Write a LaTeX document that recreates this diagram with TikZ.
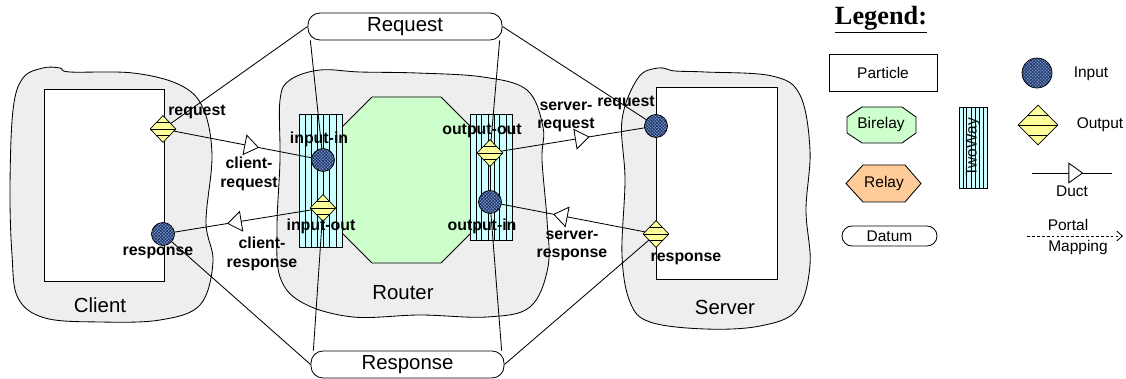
\documentclass[tikz,border=0pt]{standalone}
\usepackage{fontspec}
\setmainfont{Liberation Sans}
\newfontfamily\legendfont{Liberation Serif}
\usetikzlibrary{shapes.geometric}
\usetikzlibrary{patterns.meta}
\usetikzlibrary{calc}
\usetikzlibrary{arrows.meta}
\usetikzlibrary{decorations.markings}
\definecolor{blobgray}{HTML}{EEEEEE}
\definecolor{birelaygreen}{HTML}{CCFFCC}
\definecolor{relayorange}{HTML}{FFCC99}
\definecolor{twocyan}{HTML}{CCFFFF}
\definecolor{outyellow}{HTML}{FFFF99}
\definecolor{inblue}{HTML}{86A6DA}
\definecolor{indark}{HTML}{22386A}
\tikzset{
    blob/.style = {fill=blobgray, draw=black, line width=0.6pt},
    particle/.style = {rectangle, draw=black, fill=white, line width=0.6pt, inner sep=0pt},
    birelay/.style = {draw=black, fill=birelaygreen, line width=0.6pt},
    relay/.style = {draw=black, fill=relayorange, line width=0.6pt},
    twoway/.style = {rectangle, draw=black, fill=twocyan, line width=0.6pt, inner sep=0pt,
        path picture={\foreach \f in {0.14,0.28,0.43,0.57,0.71,0.86}
            \draw[line width=0.5pt] ($(path picture bounding box.south west)!\f!(path picture bounding box.south east)$)
                -- ($(path picture bounding box.north west)!\f!(path picture bounding box.north east)$);}},
    datum/.style = {rectangle, rounded corners=0.3cm, draw=black, fill=white, line width=0.6pt, inner sep=0pt,
        font=\fontsize{14.5}{17}\selectfont},
    inport/.style = {circle, draw=black, line width=0.5pt, inner sep=0pt, minimum size=0.575cm,
        preaction={fill=inblue}, pattern={Hatch[angle=45, distance=1.6pt, line width=0.6pt]}, pattern color=indark},
    outport/.style = {diamond, draw=black, line width=0.5pt, inner sep=0pt, minimum width=0.65cm, minimum height=0.675cm,
        fill=outyellow,
        path picture={\foreach \f in {0.25,0.5,0.75}
            \draw[line width=0.5pt] ($(path picture bounding box.south west)!\f!(path picture bounding box.north west)$)
                -- ($(path picture bounding box.south east)!\f!(path picture bounding box.north east)$);}},
    portlbl/.style = {font=\fontsize{11.3}{13}\selectfont\bfseries, align=center, inner sep=0pt},
    bigtxt/.style = {font=\fontsize{14.5}{17}\selectfont, inner sep=0pt},
    legtxt/.style = {font=\fontsize{11}{13}\selectfont, align=center, inner sep=0pt},
    mapline/.style = {line width=0.6pt},
    duct/.style = {line width=0.6pt, postaction={decorate},
        decoration={markings, mark=at position #1 with
            {\arrow{Triangle[length=10.5pt,width=15pt,fill=white,line width=0.6pt]}}}},
    portal/.style = {line width=0.6pt, dash pattern=on 2pt off 1.5pt, -{Straight Barb[length=4pt,width=7pt]}}
}
\begin{document}
\begin{tikzpicture}[x=0.025cm, y=-0.025cm]
\useasboundingbox (0,0) rectangle (1126,379);
%
% containers
\draw[blob] plot[smooth cycle, tension=0.6] coordinates {(23,78) (43,68) (60,68) (70,72) (133,73) (180,85)
    (203,108) (212,155) (206,222) (213,262) (200,305) (160,320) (100,322) (45,318) (18,298) (12,255) (10,188) (13,110)};
\draw[blob] plot[smooth cycle, tension=0.6] coordinates {(290,80) (320,70) (360,72) (417,73) (483,77) (527,90)
    (543,127) (542,160) (547,220) (548,267) (530,307) (487,317) (420,315) (353,317) (303,303) (280,277) (277,227) (280,160) (280,100)};
\draw[blob] plot[smooth cycle, tension=0.6] coordinates {(638,78) (658,68) (675,71) (705,72) (772,76) (800,95)
    (810,150) (806,210) (810,265) (797,310) (760,326) (705,329) (650,322) (630,302) (622,255) (625,180) (622,120)};
%
\node[particle, minimum width=3cm, minimum height=4.8cm] at (104,185) (client) {};
\node[particle, minimum width=3.025cm, minimum height=4.8cm] at (716.5,183) (server) {};
\draw[birelay] (372,97) -- (441,97) -- (490,146) -- (490,214) -- (441,263) -- (372,263) -- (323,214) -- (323,146) -- cycle;
\node[twoway, minimum width=1.075cm, minimum height=3.325cm] at (320.5,180.5) (twin) {};
\node[twoway, minimum width=1.05cm, minimum height=3.15cm] at (491,177) (twout) {};
%
\node[bigtxt] at (100,305) (clienttxt) {Client};
\node[bigtxt] at (403,293) (routertxt) {Router};
\node[bigtxt] at (725,307) (servertxt) {Server};
%
\node[datum, minimum width=4.85cm, minimum height=0.675cm] at (405,26.5) (req) {Request};
\node[datum, minimum width=4.825cm, minimum height=0.675cm] at (407.5,364.5) (resp) {Response};
%
% port positions
\coordinate (creq) at (163,129);
\coordinate (cresp) at (163,234);
\coordinate (inin) at (323,160);
\coordinate (inout) at (323,208);
\coordinate (outout) at (490,153);
\coordinate (outin) at (490,202);
\coordinate (sreq) at (656,126);
\coordinate (sresp) at (656,234);
%
\draw[line width=0.6pt] (inin) -- (inout);
\draw[line width=0.6pt] (outout) -- (outin);
%
\draw[mapline] (req.west) -- (creq);
\draw[mapline] ([xshift=2pt]req.south west) -- (inin);
\draw[mapline] ([xshift=-2pt]req.south east) -- (outout);
\draw[mapline] (req.east) -- (sreq);
\draw[mapline] (resp.west) -- (cresp);
\draw[mapline] ([xshift=2pt]resp.north west) -- (inout);
\draw[mapline] ([xshift=-2pt]resp.north east) -- (outin);
\draw[mapline] (resp.east) -- (sresp);
%
\draw[duct=0.6] (creq) -- (inin);
\draw[duct=0.6] (inout) -- (cresp);
\draw[duct=0.6] (outout) -- (sreq);
\draw[duct=0.62] (sresp) -- (outin);
%
\node[outport] at (creq) (creqp) {};
\node[inport] at (cresp) (cresppt) {};
\node[inport] at (inin) (ininp) {};
\node[outport] at (inout) (inoutp) {};
\node[outport] at (outout) (outoutp) {};
\node[inport] at (outin) (outinp) {};
\node[inport] at (sreq) (sreqp) {};
\node[outport] at (sresp) (sresppt) {};
%
\node[portlbl] at (197,112) {request};
\node[portlbl] at (158,253) {response};
\node[portlbl] at (249,174) {client-\\request};
\node[portlbl] at (262,254) {client-\\response};
\node[portlbl] at (319,139) {input-in};
\node[portlbl] at (321,226) {input-out};
\node[portlbl] at (482,131) {output-out};
\node[portlbl] at (482,226) {output-in};
\node[portlbl] at (626,103) {request};
\node[portlbl] at (686,259) {response};
\node[portlbl] at (566,117) {server-\\request};
\node[portlbl] at (572,246) {server-\\response};
%
% legend
\node[inner sep=0pt, font=\legendfont\fontsize{18.7}{21}\selectfont\bfseries] at (881,20) (legend) {\underline{Legend:}};
\node[particle, minimum width=2.7cm, minimum height=0.925cm, legtxt] at (883,72.5) (lparticle) {Particle};
\draw[birelay] (862,107) -- (902,107) -- (916,117) -- (916,133) -- (902,143) -- (862,143) -- (847,133) -- (847,117) -- cycle;
\node[legtxt] at (881,125) (lbirelay) {Birelay};
\draw[relay] (863,165) -- (905,165) -- (921,183.5) -- (905,202) -- (863,202) -- (846,183.5) -- cycle;
\node[legtxt] at (884,183.5) (lrelay) {Relay};
\node[datum, minimum width=2.375cm, minimum height=0.5cm, rounded corners=0.25cm, legtxt] at (889.5,236) (ldatum) {Datum};
\node[twoway, minimum width=0.7cm, minimum height=2.025cm] at (973,147.5) (ltwoway) {};
\node[legtxt, rotate=90] at (973,147.5) {TwoWay};
\node[inport, minimum size=0.75cm] at (1037,73) (linput) {};
\node[legtxt] at (1091,74) {Input};
\node[outport, minimum width=1cm, minimum height=1cm] at (1038,125) (loutput) {};
\node[legtxt] at (1100,125) {Output};
\coordinate (lduct1) at (1032,173);
\coordinate (lduct2) at (1112,173);
\draw[duct=0.64] (lduct1) -- (lduct2);
\node[legtxt] at (1072,191) {Duct};
\coordinate (lmap1) at (1027,236);
\coordinate (lmap2) at (1123,236);
\draw[portal] (lmap1) -- (lmap2);
\node[legtxt] at (1068,225) {Portal};
\node[legtxt] at (1078,248) {Mapping};

\end{tikzpicture}
\end{document}
